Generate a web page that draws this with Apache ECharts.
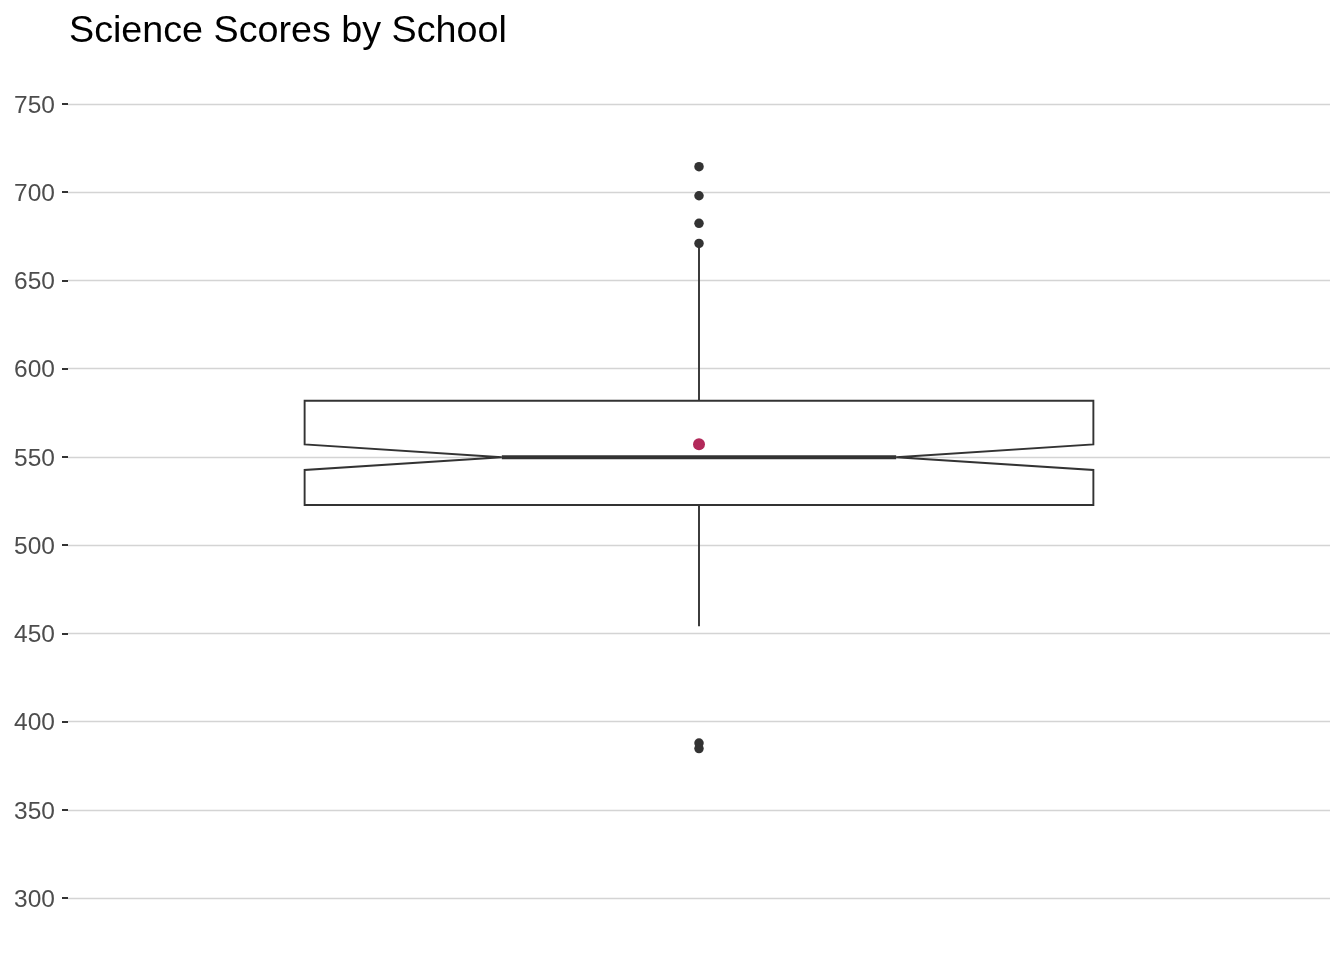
<!DOCTYPE html>
<html>
<head>
<meta charset="utf-8">
<script src="https://cdn.jsdelivr.net/npm/echarts@6/dist/echarts.min.js"></script>
<style>
html,body{margin:0;padding:0;background:#fff;}
#chart{width:1344px;height:960px;}
</style>
</head>
<body>
<div id="chart"></div>
<script>
// ---- data ----
const categories = ['School'];
const q1Values = [522.7];
const notchLow = [542.6];
const medians = [549.8];
const notchHigh = [557.1];
const q3Values = [581.8];
const whiskerLow = [454];
const whiskerHigh = [671];
const meanValues = [557.1];
const outlierValues = [714.5, 698, 682.4, 671, 387.8, 384.7];
const yMin = 300, yMax = 750, yStep = 50;

// ---- build ----
const boxData = categories.map((c, i) => [i + 1, q1Values[i], notchLow[i], medians[i], notchHigh[i], q3Values[i], whiskerLow[i], whiskerHigh[i]]);
const outlierData = outlierValues.map(v => [1, v]);
const meanData = meanValues.map((v, i) => [i + 1, v]);
const lineColor = '#333333';
const halfWidth = 0.375;

const chart = echarts.init(document.getElementById('chart'), null, {renderer: 'canvas'});
chart.setOption({
  animation: false,
  backgroundColor: '#ffffff',
  title: {
    text: 'Science Scores by School',
    left: 64, top: 8,
    textStyle: {fontFamily: 'Liberation Sans, Arial, sans-serif', fontSize: 37.7, fontWeight: 'normal', color: '#000000'}
  },
  grid: {left: 68, right: 14, top: 104, bottom: 62, containLabel: false},
  xAxis: {
    type: 'value', min: 0.4, max: 1.6,
    show: false
  },
  yAxis: {
    type: 'value', min: yMin, max: yMax, interval: yStep,
    axisLine: {show: false},
    axisTick: {show: true, length: 6, lineStyle: {color: '#333333', width: 2}},
    axisLabel: {
      margin: 13,
      formatter: '{a|{value}}',
      rich: {a: {padding: [4, 0, 0, 0], fontFamily: 'Liberation Sans, Arial, sans-serif', fontSize: 24.5, color: '#4d4d4d'}},
      fontFamily: 'Liberation Sans, Arial, sans-serif', fontSize: 24.5, color: '#4d4d4d'
    },
    splitLine: {show: true, lineStyle: {color: '#d4d4d4', width: 1.4}}
  },
  series: [
    {
      type: 'custom',
      data: boxData,
      encode: {x: 0, y: [1, 2, 3, 4, 5, 6, 7]},
      renderItem: function (params, api) {
        const x = api.value(0);
        const q1 = api.value(1), nl = api.value(2), md = api.value(3), nh = api.value(4), q3 = api.value(5), wl = api.value(6), wh = api.value(7);
        const L = api.coord([x - halfWidth, q3])[0];
        const R = api.coord([x + halfWidth, q3])[0];
        const Li = api.coord([x - halfWidth / 2, q3])[0];
        const Ri = api.coord([x + halfWidth / 2, q3])[0];
        const C = api.coord([x, q3])[0];
        const y = v => api.coord([x, v])[1];
        const stroke = {stroke: lineColor, lineWidth: 1.9, fill: null};
        return {
          type: 'group',
          children: [
            {type: 'line', shape: {x1: C, y1: y(q3), x2: C, y2: y(wh)}, style: stroke},
            {type: 'line', shape: {x1: C, y1: y(q1), x2: C, y2: y(wl)}, style: stroke},
            {type: 'polygon', shape: {points: [
              [L, y(q3)], [R, y(q3)], [R, y(nh)], [Ri, y(md)], [R, y(nl)], [R, y(q1)],
              [L, y(q1)], [L, y(nl)], [Li, y(md)], [L, y(nh)]
            ]}, style: {stroke: lineColor, lineWidth: 1.9, fill: 'rgba(255,255,255,0)'}},
            {type: 'line', shape: {x1: Li, y1: y(md), x2: Ri, y2: y(md)}, style: {stroke: lineColor, lineWidth: 4.2}}
          ]
        };
      },
      z: 2
    },
    {
      type: 'scatter',
      data: outlierData,
      symbol: 'circle',
      symbolSize: 9.5,
      itemStyle: {color: lineColor, opacity: 1},
      z: 3
    },
    {
      type: 'scatter',
      data: meanData,
      symbol: 'circle',
      symbolSize: 12,
      itemStyle: {color: '#B2295A', opacity: 1},
      z: 4
    }
  ]
});
</script>
</body>
</html>
